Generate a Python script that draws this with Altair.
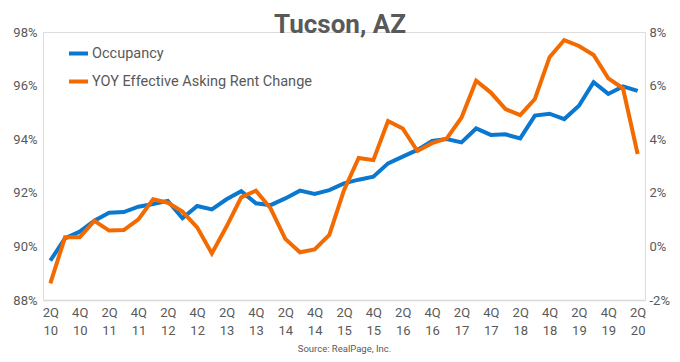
import altair as alt
import pandas as pd

quarters = ["2Q10", "3Q10", "4Q10",
            "1Q11", "2Q11", "3Q11", "4Q11",
            "1Q12", "2Q12", "3Q12", "4Q12",
            "1Q13", "2Q13", "3Q13", "4Q13",
            "1Q14", "2Q14", "3Q14", "4Q14",
            "1Q15", "2Q15", "3Q15", "4Q15",
            "1Q16", "2Q16", "3Q16", "4Q16",
            "1Q17", "2Q17", "3Q17", "4Q17",
            "1Q18", "2Q18", "3Q18", "4Q18",
            "1Q19", "2Q19", "3Q19", "4Q19",
            "1Q20", "2Q20"]

tick_labels = ["2Q10", "4Q10", "2Q11", "4Q11", "2Q12", "4Q12", "2Q13", "4Q13",
               "2Q14", "4Q14", "2Q15", "4Q15", "2Q16", "4Q16", "2Q17", "4Q17",
               "2Q18", "4Q18", "2Q19", "4Q19", "2Q20"]

occupancy = [89.47, 90.30, 90.55, 90.96, 91.26, 91.28, 91.48, 91.58, 91.70, 91.05,
             91.51, 91.38, 91.76, 92.06, 91.61, 91.54, 91.79, 92.08, 91.96, 92.10,
             92.35, 92.49, 92.60, 93.10, 93.35, 93.60, 93.94, 94.01, 93.88, 94.40,
             94.16, 94.18, 94.03, 94.88, 94.95, 94.75, 95.25, 96.13, 95.69, 95.97,
             95.80]

rent_change = [-1.38, 0.34, 0.34, 0.95, 0.59, 0.61, 1.01, 1.76, 1.63, 1.30,
               0.71, -0.26, 0.74, 1.83, 2.08, 1.42, 0.28, -0.22, -0.11, 0.43,
               2.10, 3.30, 3.22, 4.68, 4.40, 3.56, 3.85, 4.03, 4.80, 6.18,
               5.74, 5.12, 4.90, 5.50, 7.06, 7.70, 7.48, 7.14, 6.27, 5.90,
               3.45]

series_names = ["Occupancy", "YOY Effective Asking Rent Change"]
series_colors = ["#0B78CF", "#F26A00"]

rows = []
for q, o, r in zip(quarters, occupancy, rent_change):
    rows.append({"quarter": q, "series": series_names[0], "value": o})
    rows.append({"quarter": q, "series": series_names[1], "value": r})
df = pd.DataFrame(rows)

GRAY = "#595959"
FONT = "Roboto"

x_enc = alt.X(
    "quarter:O",
    sort=quarters,
    scale=alt.Scale(type="point", padding=0.5),
    axis=alt.Axis(
        values=tick_labels,
        labelExpr="[substring(datum.value,0,2), substring(datum.value,2,4)]",
        labelAngle=0,
        ticks=False,
        domainColor="#d9d9d9",
        domainWidth=1.5,
        labelPadding=6,
        labelLineHeight=18,
        labelFontSize=13,
        labelColor=GRAY,
        labelFont=FONT,
        title="Source: RealPage, Inc.",
        titleFontSize=9.5,
        titleFontWeight="normal",
        titleColor=GRAY,
        titleFont=FONT,
        titlePadding=6,
    ),
)

color_enc = alt.Color(
    "series:N",
    scale=alt.Scale(domain=series_names, range=series_colors),
    legend=alt.Legend(
        title=None,
        orient="none",
        legendX=24,
        legendY=10,
        symbolType="stroke",
        symbolSize=361,
        symbolStrokeWidth=4,
        labelFontSize=14.5,
        labelColor=GRAY,
        labelFont=FONT,
        labelOffset=2,
        labelLimit=0,
        rowPadding=8,
        padding=0,
    ),
)

base = alt.Chart(df)

occ_line = base.transform_filter(
    alt.datum.series == series_names[0]
).mark_line(strokeWidth=4).encode(
    x=x_enc,
    y=alt.Y(
        "value:Q",
        scale=alt.Scale(domain=[88, 98], nice=False, zero=False),
        axis=alt.Axis(
            orient="left",
            values=[88, 90, 92, 94, 96, 98],
            labelExpr="datum.value + '%'",
            grid=False, ticks=False, domain=False,
            labelFontSize=13, labelColor=GRAY, labelFont=FONT,
            labelPadding=6, title=None,
        ),
    ),
    color=color_enc,
)

rent_line = base.transform_filter(
    alt.datum.series == series_names[1]
).mark_line(strokeWidth=4).encode(
    x=x_enc,
    y=alt.Y(
        "value:Q",
        scale=alt.Scale(domain=[-2, 8], nice=False, zero=False),
        axis=alt.Axis(
            orient="right",
            values=[-2, 0, 2, 4, 6, 8],
            labelExpr="datum.value + '%'",
            grid=False, ticks=False, domain=False,
            labelFontSize=13, labelColor=GRAY, labelFont=FONT,
            labelPadding=4, title=None,
        ),
    ),
    color=color_enc,
)

chart = alt.layer(occ_line, rent_line).resolve_scale(
    y="independent"
).properties(
    width=602,
    height=268,
    autosize=alt.AutoSizeParams(type="none"),
    padding={"left": 35, "top": 24, "right": 27, "bottom": 54},
    title=alt.Title(
        "Tucson, AZ",
        fontSize=26,
        font=FONT,
        fontWeight="bold",
        color=GRAY,
        anchor="middle",
        offset=-12,
        dx=-4,
    ),
).configure_view(stroke=None).configure(background="white")

chart.save("out.html", embed_options={"renderer": "svg", "actions": False})
